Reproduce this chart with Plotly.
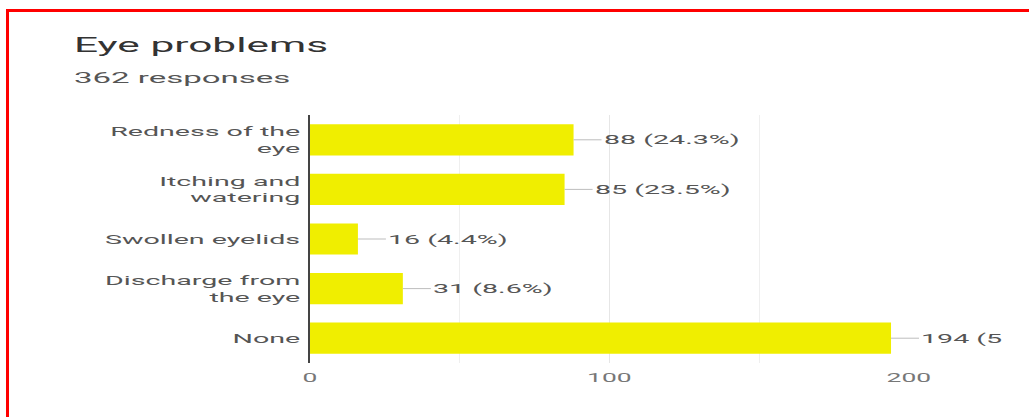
import plotly.graph_objects as go

# ---- data ----
categories = ["Redness of the<br>eye", "Itching and<br>watering", "Swollen eyelids",
              "Discharge from<br>the eye", "None"]
counts = [88, 85, 16, 31, 194]
value_labels = ["88 (24.3%)", "85 (23.5%)", "16 (4.4%)", "31 (8.6%)", "194 (5"]
x_ticks = [0, 100, 200]
title_text = "Eye problems"
subtitle_text = "362 responses"

# ---- geometry (pixels) ----
W, H = 1029, 417
L, R, T, B = 310, 120, 115, 54
PW, PH = W - L - R, H - T - B


def px_x(p):
    return (p - L) / PW


def px_y(p):
    return (H - B - p) / PH


BAR_COLOR = "#F0EE00"
TEXT = "#555555"
FONT = "Roboto"

fig = go.Figure()
fig.add_trace(go.Bar(
    x=counts, y=categories, orientation="h",
    marker=dict(color=BAR_COLOR, line=dict(width=0)),
    hoverinfo="skip", showlegend=False,
))

annotations = [
    dict(x=c, y=cat, xref="x", yref="y", text=lab, showarrow=True,
         arrowhead=0, arrowwidth=1, arrowcolor="#bdbdbd", ax=28, ay=0,
         xanchor="left", standoff=0, startstandoff=0,
         font=dict(family=FONT, size=13, color=TEXT))
    for c, cat, lab in zip(counts, categories, value_labels)
]
annotations.append(dict(x=px_x(72), y=px_y(45), xref="paper", yref="paper",
                        text=title_text, showarrow=False, xanchor="left",
                        yanchor="middle",
                        font=dict(family=FONT, size=21, color="#333333")))
annotations.append(dict(x=px_x(72), y=px_y(78), xref="paper", yref="paper",
                        text=subtitle_text, showarrow=False, xanchor="left",
                        yanchor="middle",
                        font=dict(family=FONT, size=15, color=TEXT)))

# red frame; its right and bottom sides run past the edge of the figure
shapes = [
    dict(type="rect", xref="paper", yref="paper", x0=px_x(7.5), x1=px_x(W + 30),
         y0=px_y(10.5), y1=px_y(H + 30), fillcolor="rgba(0,0,0,0)",
         line=dict(color="#FF0000", width=3)),
]

fig.update_layout(
    width=W, height=H,
    margin=dict(l=L, r=R, t=T, b=B, autoexpand=False),
    paper_bgcolor="white", plot_bgcolor="white",
    bargap=0.37,
    annotations=annotations, shapes=shapes,
    font=dict(family=FONT, color=TEXT),
)
fig.update_xaxes(
    range=[0, 200], tickvals=x_ticks, showgrid=True, gridcolor="#e6e6e6",
    gridwidth=1, zeroline=False, showline=False, ticks="",
    ticklabelstandoff=6,
    tickfont=dict(family=FONT, size=12, color="#777777"),
    minor=dict(dtick=50, showgrid=True, gridcolor="#efefef", gridwidth=1),
)
fig.update_yaxes(
    categoryorder="array", categoryarray=categories[::-1],
    showline=True, linecolor="#444444", linewidth=2, ticks="",
    showgrid=False, ticklabelstandoff=5,
    tickfont=dict(family=FONT, size=13, color=TEXT),
)

# Widen every label horizontally, keeping its anchored edge in place.
widen_js = """
var gd = document.getElementById('{plot_id}');
var items = [];
gd.querySelectorAll('text').forEach(function (t) {
  var lines = t.querySelectorAll('tspan.line');
  if (lines.length) { lines.forEach(function (l) { items.push([l, t]); }); }
  else { items.push([t, t]); }
});
items.forEach(function (p) {
  var el = p[0], t = p[1];
  var w = el.getComputedTextLength();
  if (!w) return;
  var S = (t.textContent === 'Eye problems') ? 2.02 : 2.2;
  var b0 = el.getBBox();
  el.setAttribute('textLength', w * S);
  el.setAttribute('lengthAdjust', 'spacingAndGlyphs');
  var b1 = el.getBBox();
  var anchor = getComputedStyle(t).textAnchor;
  var keep = (t.classList.contains('annotation-text') || anchor === 'start') ? 'l'
           : (anchor === 'end' ? 'r' : 'c');
  var dx = keep === 'l' ? b0.x - b1.x
         : keep === 'r' ? (b0.x + b0.width) - (b1.x + b1.width)
         : (b0.x + b0.width / 2) - (b1.x + b1.width / 2);
  if (Math.abs(dx) > 0.1) {
    el.setAttribute('x', parseFloat(el.getAttribute('x') || 0) + dx);
  }
});
"""

fig.write_html("out.html", post_script=widen_js, config={"displayModeBar": False})
